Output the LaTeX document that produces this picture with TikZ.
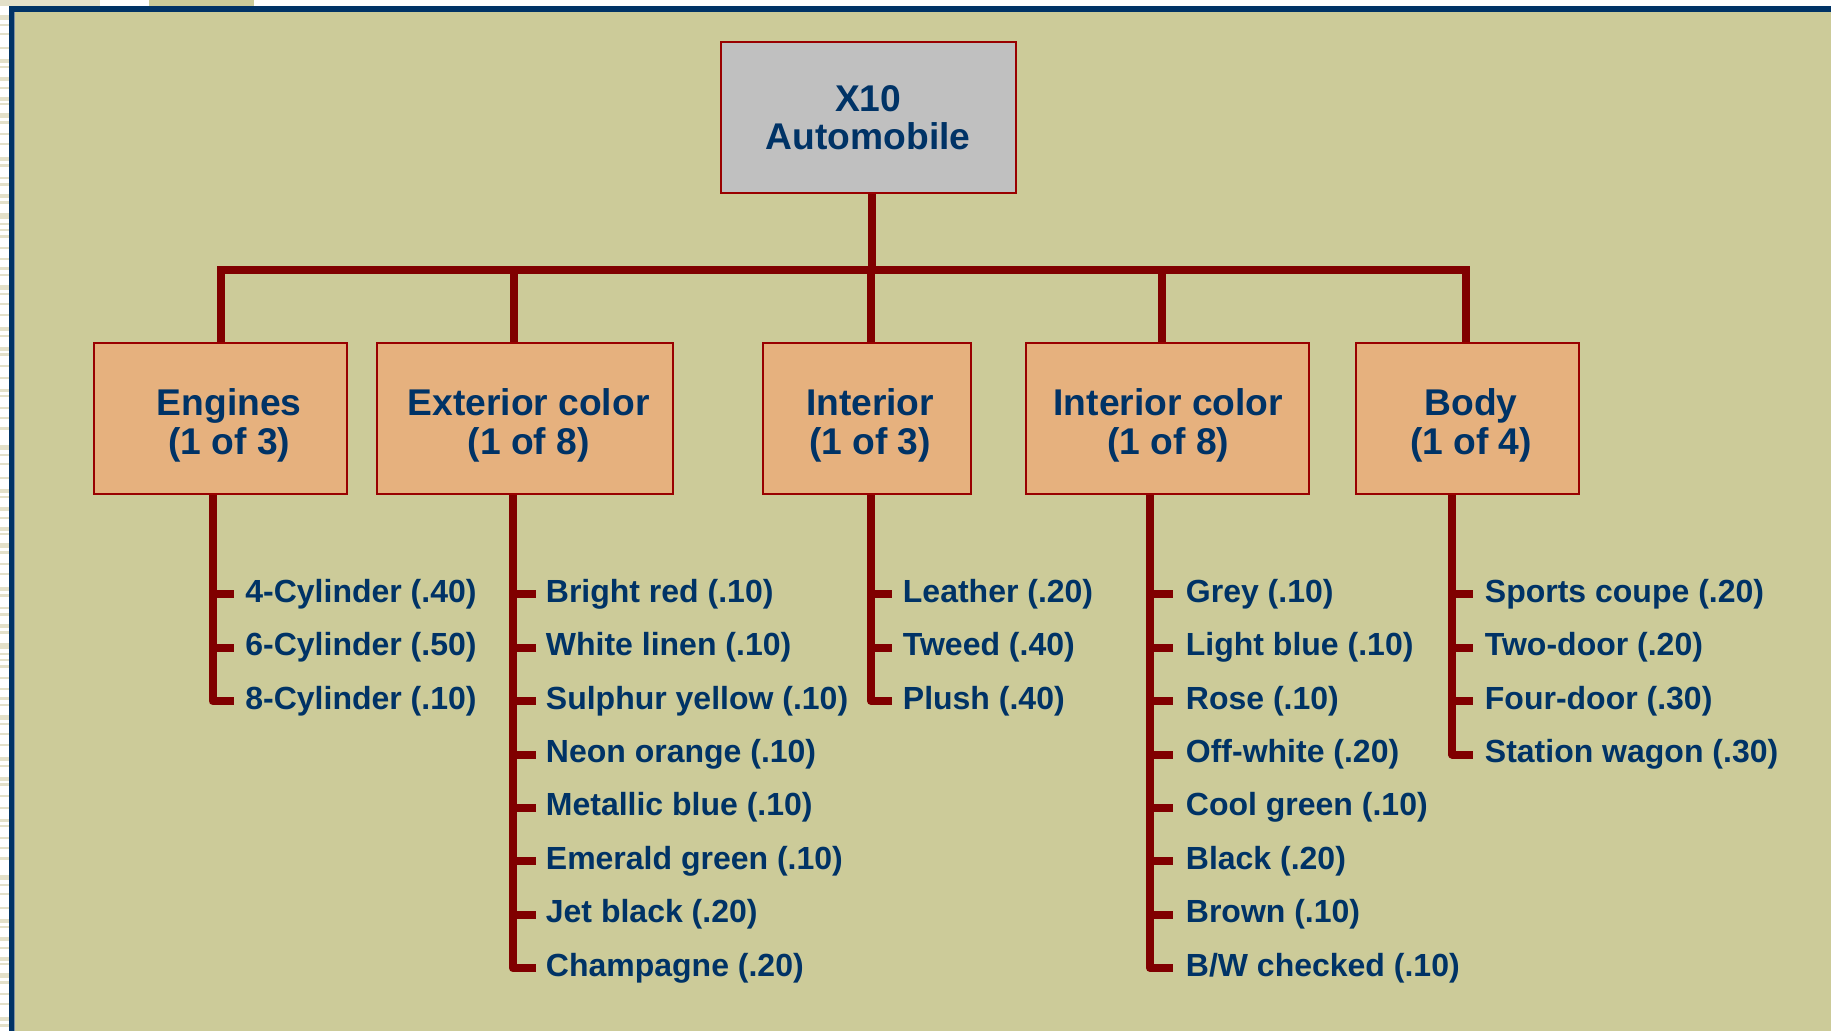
\documentclass[tikz,border=0pt]{standalone}
\usepackage{fontspec}
\setmainfont{Liberation Sans}
\definecolor{bg}{HTML}{CCCB99}
\definecolor{pale}{HTML}{E3E0C9}
\definecolor{navy}{HTML}{003366}
\definecolor{frameedge}{HTML}{7D8FA0}
\definecolor{wire}{HTML}{800000}
\definecolor{edge}{HTML}{990000}
\definecolor{tan}{HTML}{E6B17E}
\definecolor{silver}{HTML}{C0C0C0}
\begin{document}
\begin{tikzpicture}[x=0.5pt,y=-0.5pt,
  bar/.style={draw=wire,line width=4pt},
  rootbox/.style={draw=edge,line width=1pt,fill=silver,inner sep=0pt},
  catbox/.style={draw=edge,line width=1pt,fill=tan,inner sep=0pt},
  cattext/.style={text=navy,font=\fontsize{18.6}{19.2}\selectfont\bfseries,align=center},
  item/.style={anchor=west,inner sep=0pt,text=navy,
    font=\fontsize{16}{19}\selectfont\bfseries,text height=11.6pt,text depth=3.6pt}]
\useasboundingbox (0,0) rectangle (1831,1031);

% page surround and frame
\fill[white] (0,0) rectangle (1831,1031);
\fill[pale] (0,0) rectangle (100,6);
\fill[bg] (149,0) rectangle (254,6);
\foreach \o in {0,430,860}{
  \foreach \a/\b in {15/20,24/26,33/35,47/49,59/63,66/68,77/81,87/89,97/101,
    103/105,113/118,121/124,133/135,143/145,157/161,164/167,177/179,183/186,
    194/198,201/204,213/219,223/225,229/231,235/238,247/249,258/260,267/270,
    274/276,285/290,293/295,303/305,314/316,327/331,335/337,347/351,353/356,
    365/367,377/379,389/392,395/397,407/409,417/419,427/430}{
    \fill[pale] (0,\a+\o) rectangle (9,\b+\o);
  }
}
\fill[navy] (9,6) rectangle (1831,1031);
\fill[bg] (14,12) rectangle (1831,1031);
\fill[frameedge] (14,12) rectangle (15,1031);

% boxes
\node[rootbox,cattext,minimum width=147.5pt,minimum height=75.2pt] (root)
  at (868.2,117.5) {X10\\Automobile};
\node[catbox,minimum width=126.3pt,minimum height=75.5pt,
  label={[cattext,xshift=4.5pt,yshift=-3.5pt]center:{Engines\\(1 of 3)}}]
  (eng) at (220.3,418.2) {};
\node[catbox,minimum width=147.6pt,minimum height=75.5pt,
  label={[cattext,xshift=1.8pt,yshift=-3.5pt]center:{Exterior color\\(1 of 8)}}]
  (ext) at (525,418.2) {};
\node[catbox,minimum width=104pt,minimum height=75.5pt,
  label={[cattext,xshift=1.8pt,yshift=-3.5pt]center:{Interior\\(1 of 3)}}]
  (int) at (866.5,418.2) {};
\node[catbox,minimum width=141.5pt,minimum height=75.5pt,
  label={[cattext,xshift=0.4pt,yshift=-3.5pt]center:{Interior color\\(1 of 8)}}]
  (ic) at (1167.5,418.2) {};
\node[catbox,minimum width=111.8pt,minimum height=75.5pt,
  label={[cattext,xshift=1.8pt,yshift=-3.5pt]center:{Body\\(1 of 4)}}]
  (body) at (1467.5,418.2) {};

% bus from the root to the categories
\coordinate (busL) at (220.7,270);
\coordinate (busR) at (1465.7,270);
\coordinate (dRoot) at (871.7,270);
\coordinate (dExt) at (513.8,270);
\coordinate (dInt) at (871,270);
\coordinate (dIc) at (1161.9,270);
\draw[bar] (root.south -| dRoot) -- (dRoot);
\draw[bar] (eng.north -| busL) -- (busL) -- (busR) -- (body.north -| busR);
\draw[bar] (dExt) -- (dExt |- ext.north);
\draw[bar] (dInt) -- (dInt |- int.north);
\draw[bar] (dIc) -- (dIc |- ic.north);

% option lists
\coordinate (sEng) at (212.5,0);
\coordinate (sExt) at (512.8,0);
\coordinate (sInt) at (871,0);
\coordinate (sIc) at (1150,0);
\coordinate (sBody) at (1452.3,0);

\foreach \t [count=\i] in {4-Cylinder (.40),6-Cylinder (.50),8-Cylinder (.10)}
  \node[item] (eng\i) at (245,{594.3+53.4*(\i-1)}) {\t};
\foreach \t [count=\i] in {Bright red (.10),White linen (.10),Sulphur yellow (.10),
  Neon orange (.10),Metallic blue (.10),Emerald green (.10),Jet black (.20),Champagne (.20)}
  \node[item] (ext\i) at (545.5,{594.3+53.4*(\i-1)}) {\t};
\foreach \t [count=\i] in {Leather (.20),Tweed (.40),Plush (.40)}
  \node[item] (int\i) at (902.5,{594.3+53.4*(\i-1)}) {\t};
\foreach \t [count=\i] in {Grey (.10),Light blue (.10),Rose (.10),Off-white (.20),
  Cool green (.10),Black (.20),Brown (.10),B/W checked (.10)}
  \node[item] (ic\i) at (1185.5,{594.3+53.4*(\i-1)}) {\t};
\foreach \t [count=\i] in {Sports coupe (.20),Two-door (.20),Four-door (.30),Station wagon (.30)}
  \node[item] (body\i) at (1484.5,{594.3+53.4*(\i-1)}) {\t};

% stems with ticks
\draw[bar,line join=round] (eng.south -| sEng) -- (sEng |- eng3.west) -- ++(21,0);
\foreach \i in {1,2} \draw[bar] (sEng |- eng\i.west) -- ++(21,0);
\draw[bar,line join=round] (ext.south -| sExt) -- (sExt |- ext8.west) -- ++(23,0);
\foreach \i in {1,...,7} \draw[bar] (sExt |- ext\i.west) -- ++(23,0);
\draw[bar,line join=round] (int.south -| sInt) -- (sInt |- int3.west) -- ++(21,0);
\foreach \i in {1,2} \draw[bar] (sInt |- int\i.west) -- ++(21,0);
\draw[bar,line join=round] (ic.south -| sIc) -- (sIc |- ic8.west) -- ++(23,0);
\foreach \i in {1,...,7} \draw[bar] (sIc |- ic\i.west) -- ++(23,0);
\draw[bar,line join=round] (body.south -| sBody) -- (sBody |- body4.west) -- ++(21,0);
\foreach \i in {1,2,3} \draw[bar] (sBody |- body\i.west) -- ++(21,0);
\end{tikzpicture}
\end{document}
